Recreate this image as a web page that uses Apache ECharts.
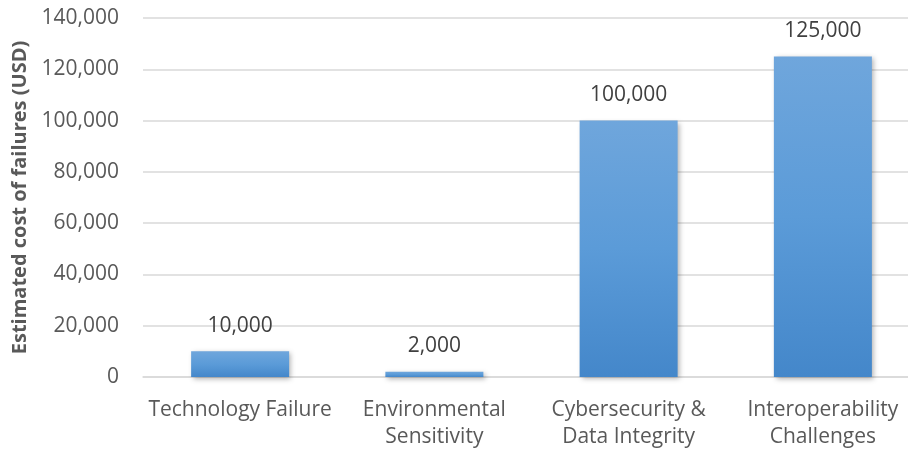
<!DOCTYPE html>
<html><head><meta charset="utf-8">
<script src="https://cdn.jsdelivr.net/npm/echarts@6/dist/echarts.min.js"></script>
<style>html,body{margin:0;padding:0;background:#fff}#c{width:908px;height:451px}</style>
</head><body><div id="c"></div>
<script>
const categories = ['Technology Failure', 'Environmental\nSensitivity', 'Cybersecurity &\nData Integrity', 'Interoperability\nChallenges'];
const costs = [10000, 2000, 100000, 125000];
const yTicks = { min: 0, max: 140000, interval: 20000 };
const yName = 'Estimated cost of failures (USD)';

const fmt = v => v.toLocaleString('en-US');
const chart = echarts.init(document.getElementById('c'), null, { renderer: 'canvas' });
chart.setOption({
  animation: false,
  textStyle: { fontFamily: 'Open Sans' },
  grid: { left: 143, top: 18, width: 777, height: 359, containLabel: false, outerBoundsMode: 'none' },
  xAxis: {
    type: 'category', data: categories,
    axisLine: { lineStyle: { color: '#d9d9d9', width: 1.5 } },
    axisTick: { show: false },
    axisLabel: { interval: 0, color: '#595959', fontSize: 21, margin: 20, lineHeight: 27, fontFamily: 'Open Sans' }
  },
  yAxis: {
    type: 'value', min: yTicks.min, max: yTicks.max, interval: yTicks.interval,
    name: yName, nameLocation: 'middle', nameGap: 108,
    nameTextStyle: { color: '#595959', fontSize: 20, fontWeight: 'bold', fontFamily: 'Open Sans' },
    axisLine: { show: false }, axisTick: { show: false },
    splitLine: { lineStyle: { color: '#d9d9d9', width: 1.5 } },
    axisLabel: { color: '#595959', fontSize: 21, margin: 24, formatter: v => fmt(v), fontFamily: 'Open Sans' }
  },
  series: [{
    type: 'bar', data: costs, barWidth: 98,
    itemStyle: {
      color: new echarts.graphic.LinearGradient(0, 0, 0, 1, [
        { offset: 0, color: '#6fa6dc' }, { offset: 0.5, color: '#5b9bd8' }, { offset: 1, color: '#4487ca' }
      ]),
      shadowColor: 'rgba(0,0,0,0.3)', shadowBlur: 5, shadowOffsetX: 2, shadowOffsetY: 2
    },
    label: { show: true, position: 'top', distance: 15, color: '#404040', fontSize: 21, formatter: p => fmt(p.value), fontFamily: 'Open Sans' }
  }]
});
</script></body></html>
